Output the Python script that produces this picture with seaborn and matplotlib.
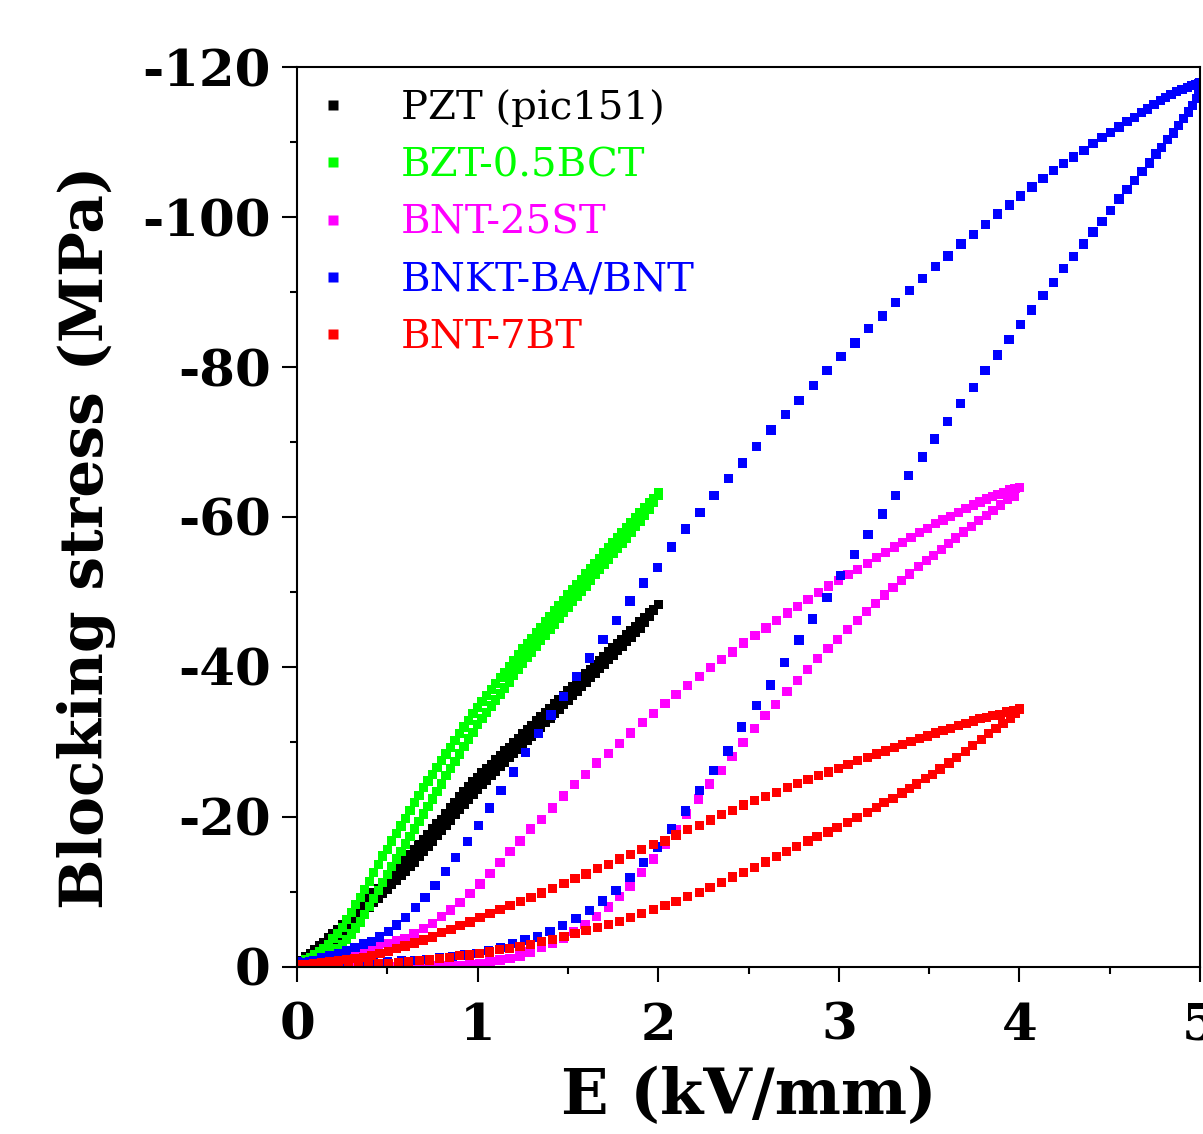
import numpy as np
import pandas as pd
import matplotlib
matplotlib.use('Agg')
import matplotlib.pyplot as plt
from matplotlib.lines import Line2D
from matplotlib.ticker import MultipleLocator
import seaborn as sns

sns.set_style('ticks')
plt.rcParams['font.family'] = ['DejaVu Serif']
plt.rcParams['font.weight'] = 'bold'
plt.rcParams['axes.unicode_minus'] = False
for key in ['text.color', 'axes.labelcolor', 'xtick.color', 'ytick.color', 'axes.edgecolor']:
    plt.rcParams[key] = 'black'

labels = ['PZT (pic151)', 'BZT-0.5BCT', 'BNT-25ST', 'BNKT-BA/BNT', 'BNT-7BT']
colors = ['#000000', '#00ff00', '#ff00ff', '#0000ff', '#ff0000']

# field grid of the two 2 kV/mm loops (kV/mm)
e_2kv = [0.0, 0.025, 0.05, 0.075, 0.1, 0.125, 0.15, 0.175, 0.2, 0.225,
         0.25, 0.275, 0.3, 0.325, 0.35, 0.375, 0.4, 0.425, 0.45, 0.475,
         0.5, 0.525, 0.55, 0.575, 0.6, 0.625, 0.65, 0.675, 0.7, 0.725,
         0.75, 0.775, 0.8, 0.825, 0.85, 0.875, 0.9, 0.925, 0.95, 0.975,
         1.0, 1.025, 1.05, 1.075, 1.1, 1.125, 1.15, 1.175, 1.2, 1.225,
         1.25, 1.275, 1.3, 1.325, 1.35, 1.375, 1.4, 1.425, 1.45, 1.475,
         1.5, 1.525, 1.55, 1.575, 1.6, 1.625, 1.65, 1.675, 1.7, 1.725,
         1.75, 1.775, 1.8, 1.825, 1.85, 1.875, 1.9, 1.925, 1.95, 1.975,
         2.0]

# blocking stress magnitudes (MPa), plotted as negative values
pzt_up = [0.5, 0.9, 1.35, 1.8, 2.3, 2.8, 3.3, 3.85, 4.4, 5.0,
          5.6, 6.2, 6.8, 7.45, 8.1, 8.7, 9.3, 9.9, 10.5, 11.15,
          11.8, 12.45, 13.1, 13.7, 14.3, 14.95, 15.6, 16.3, 17.0, 17.7,
          18.4, 19.05, 19.7, 20.4, 21.2, 21.9, 22.7, 23.4, 24.1, 24.7,
          25.3, 25.9, 26.5, 27.0, 27.6, 28.2, 28.8, 29.3, 29.9, 30.5,
          31.1, 31.6, 32.2, 32.8, 33.4, 33.9, 34.5, 35.1, 35.7, 36.2,
          36.8, 37.4, 38.0, 38.5, 39.1, 39.7, 40.3, 40.8, 41.4, 42.0,
          42.6, 43.1, 43.7, 44.3, 44.9, 45.4, 46.0, 46.6, 47.2, 47.7,
          48.3]
pzt_dn = [0.4, 0.6, 0.9, 1.2, 1.6, 2.0, 2.4, 2.9, 3.4, 3.9,
          4.4, 5.0, 5.6, 6.2, 6.8, 7.4, 8.0, 8.6, 9.2, 9.8,
          10.4, 11.0, 11.6, 12.2, 12.8, 13.4, 14.0, 14.7, 15.4, 16.1,
          16.8, 17.5, 18.2, 18.9, 19.6, 20.3, 21.0, 21.7, 22.4, 23.0,
          23.7, 24.3, 24.9, 25.5, 26.1, 26.7, 27.3, 27.9, 28.5, 29.0,
          29.6, 30.2, 30.8, 31.4, 32.0, 32.6, 33.2, 33.8, 34.4, 35.0,
          35.6, 36.2, 36.8, 37.4, 38.0, 38.6, 39.2, 39.8, 40.4, 41.0,
          41.6, 42.2, 42.8, 43.4, 44.0, 44.6, 45.2, 45.9, 46.7, 47.5,
          48.3]
bzt_up = [0.6, 0.75, 1.0, 1.3, 1.65, 2.05, 2.5, 3.0, 3.8, 4.5,
          5.3, 6.3, 7.3, 8.3, 9.3, 10.35, 11.4, 12.6, 13.7, 14.8,
          15.7, 16.8, 17.8, 18.8, 19.8, 20.9, 21.9, 22.9, 23.9, 24.8,
          25.7, 26.6, 27.5, 28.4, 29.3, 30.2, 31.1, 32.0, 32.9, 33.8,
          34.6, 35.4, 36.2, 37.0, 37.8, 38.6, 39.3, 40.1, 40.9, 41.6,
          42.4, 43.1, 43.8, 44.6, 45.3, 46.0, 46.7, 47.5, 48.2, 48.9,
          49.6, 50.3, 51.0, 51.7, 52.4, 53.1, 53.8, 54.5, 55.2, 55.9,
          56.6, 57.3, 57.9, 58.6, 59.3, 59.9, 60.6, 61.2, 61.9, 62.5,
          63.2]
bzt_dn = [0.5, 0.6, 0.75, 0.9, 1.1, 1.3, 1.55, 1.85, 2.15, 2.5,
          3.0, 3.7, 4.4, 5.2, 6.0, 7.0, 8.1, 9.1, 10.2, 11.3,
          12.3, 13.4, 14.4, 15.4, 16.4, 17.4, 18.4, 19.4, 20.4, 21.4,
          22.4, 23.4, 24.4, 25.5, 26.5, 27.4, 28.4, 29.4, 30.4, 31.3,
          32.3, 33.1, 33.9, 34.8, 35.6, 36.4, 37.2, 38.0, 38.9, 39.7,
          40.5, 41.25, 42.0, 42.75, 43.5, 44.25, 45.0, 45.75, 46.5, 47.25,
          48.0, 48.7, 49.4, 50.1, 50.8, 51.5, 52.3, 53.0, 53.7, 54.4,
          55.1, 55.8, 56.5, 57.2, 57.9, 58.7, 59.4, 60.2, 61.0, 61.9,
          62.9]

bnt25_up_e = [0.0, 0.05, 0.1, 0.15, 0.2, 0.25, 0.3, 0.35, 0.4, 0.45,
              0.5, 0.552, 0.598, 0.648, 0.7, 0.751, 0.801, 0.851, 0.902, 0.958,
              1.013, 1.069, 1.124, 1.179, 1.235, 1.294, 1.355, 1.416, 1.475, 1.536,
              1.598, 1.659, 1.724, 1.785, 1.848, 1.912, 1.973, 2.038, 2.099, 2.163,
              2.227, 2.289, 2.351, 2.412, 2.474, 2.536, 2.596, 2.655, 2.715, 2.772,
              2.83, 2.887, 2.943, 2.998, 3.051, 3.105, 3.158, 3.207, 3.258, 3.307,
              3.354, 3.399, 3.445, 3.49, 3.535, 3.577, 3.62, 3.663, 3.705, 3.744,
              3.782, 3.818, 3.85, 3.882, 3.914, 3.946, 3.975, 4.0]
bnt25_up = [0.5, 0.6, 0.8, 1.0, 1.2, 1.4, 1.7, 2.0, 2.3, 2.7,
            3.1, 3.5, 3.8, 4.4, 5.1, 5.8, 6.7, 7.6, 8.6, 9.8,
            11.06, 12.5, 13.9, 15.4, 16.8, 18.4, 19.7, 21.2, 22.8, 24.3,
            25.7, 27.2, 28.5, 29.8, 31.2, 32.6, 33.8, 35.1, 36.3, 37.5,
            38.7, 39.9, 41.0, 42.0, 43.2, 44.2, 45.2, 46.2, 47.2, 48.1,
            49.0, 49.9, 50.8, 51.5, 52.3, 53.0, 53.8, 54.6, 55.3, 56.0,
            56.6, 57.3, 57.9, 58.5, 59.1, 59.6, 60.1, 60.6, 61.1, 61.6,
            62.0, 62.4, 62.7, 63.0, 63.3, 63.6, 63.8, 63.9]
bnt25_dn_e = [0.0, 0.05, 0.1, 0.15, 0.2, 0.25, 0.3, 0.35, 0.4, 0.45,
              0.5, 0.55, 0.6, 0.65, 0.7, 0.75, 0.8, 0.85, 0.902, 0.958,
              1.013, 1.069, 1.124, 1.179, 1.235, 1.29, 1.355, 1.416, 1.475, 1.53,
              1.595, 1.659, 1.724, 1.785, 1.844, 1.908, 1.973, 2.038, 2.099, 2.158,
              2.222, 2.283, 2.348, 2.408, 2.47, 2.532, 2.591, 2.651, 2.713, 2.77,
              2.826, 2.883, 2.94, 2.994, 3.049, 3.102, 3.153, 3.205, 3.253, 3.3,
              3.349, 3.392, 3.441, 3.484, 3.526, 3.569, 3.607, 3.647, 3.69, 3.733,
              3.775, 3.818, 3.854, 3.897, 3.935, 3.973]
bnt25_dn = [0.4, 0.35, 0.3, 0.25, 0.2, 0.15, 0.12, 0.1, 0.1, 0.1,
            0.1, 0.1, 0.12, 0.14, 0.15, 0.17, 0.18, 0.2, 0.22, 0.36,
            0.49, 0.71, 0.93, 1.16, 1.47, 2.0, 2.6, 3.15, 3.8, 4.7,
            5.7, 6.7, 8.0, 9.4, 10.8, 12.6, 14.4, 16.35, 18.3, 20.4,
            22.4, 24.4, 26.2, 28.1, 29.9, 31.8, 33.5, 35.0, 36.7, 38.2,
            39.7, 41.1, 42.5, 43.7, 45.0, 46.2, 47.4, 48.5, 49.6, 50.6,
            51.5, 52.4, 53.4, 54.2, 54.9, 55.7, 56.5, 57.2, 58.0, 58.7,
            59.5, 60.2, 60.9, 61.6, 62.3, 62.8]

bnkt_up_e = [0.0, 0.044, 0.09, 0.137, 0.183, 0.229, 0.275, 0.321, 0.367, 0.413,
             0.456, 0.506, 0.552, 0.602, 0.655, 0.709, 0.764, 0.821, 0.879, 0.943,
             1.004, 1.065, 1.13, 1.198, 1.266, 1.336, 1.406, 1.475, 1.549, 1.619,
             1.694, 1.769, 1.844, 1.92, 1.997, 2.074, 2.153, 2.231, 2.309, 2.388,
             2.468, 2.545, 2.625, 2.703, 2.78, 2.858, 2.935, 3.013, 3.09, 3.166,
             3.241, 3.315, 3.39, 3.464, 3.535, 3.605, 3.677, 3.744, 3.812, 3.879,
             3.945, 4.007, 4.07, 4.13, 4.188, 4.245, 4.301, 4.357, 4.408, 4.458,
             4.506, 4.551, 4.595, 4.637, 4.675, 4.71, 4.745, 4.78, 4.81, 4.84,
             4.87, 4.9, 4.93, 4.955, 4.975, 4.99, 5.0]
bnkt_up = [0.6, 0.6, 0.9, 1.2, 1.5, 1.8, 2.2, 2.6, 3.07, 3.4,
           4.0, 4.7, 5.6, 6.6, 7.9, 9.3, 10.9, 12.7, 14.6, 16.7,
           18.9, 21.2, 23.5, 26.0, 28.6, 31.1, 33.6, 36.1, 38.7, 41.2,
           43.7, 46.2, 48.8, 51.2, 53.3, 56.0, 58.4, 60.6, 62.9, 65.1,
           67.2, 69.4, 71.6, 73.7, 75.5, 77.5, 79.5, 81.4, 83.2, 85.1,
           86.8, 88.6, 90.2, 91.8, 93.4, 94.8, 96.4, 97.7, 99.0, 100.4,
           101.6, 102.8, 104.0, 105.1, 106.2, 107.1, 108.0, 108.9, 109.8, 110.6,
           111.3, 112.0, 112.7, 113.3, 113.9, 114.4, 115.0, 115.5, 115.9, 116.3,
           116.7, 117.0, 117.3, 117.5, 117.7, 117.8, 117.9]
bnkt_dn_e = [0.0, 0.07, 0.14, 0.21, 0.28, 0.35, 0.42, 0.5, 0.58, 0.65,
             0.72, 0.79, 0.86, 0.93, 0.995, 1.059, 1.128, 1.194, 1.262, 1.331,
             1.401, 1.471, 1.545, 1.619, 1.693, 1.767, 1.844, 1.919, 1.997, 2.074,
             2.151, 2.227, 2.308, 2.387, 2.463, 2.543, 2.621, 2.7, 2.779, 2.855,
             2.934, 3.009, 3.088, 3.162, 3.241, 3.313, 3.386, 3.462, 3.531, 3.603,
             3.674, 3.744, 3.81, 3.878, 3.943, 4.005, 4.068, 4.13, 4.188, 4.245,
             4.301, 4.354, 4.408, 4.458, 4.506, 4.551, 4.595, 4.639, 4.679, 4.719,
             4.756, 4.787, 4.82, 4.852, 4.881, 4.91, 4.937, 4.96, 4.98, 4.99]
bnkt_dn = [0.7, 0.65, 0.6, 0.55, 0.55, 0.6, 0.65, 0.7, 0.8, 0.9,
           1.0, 1.2, 1.4, 1.6, 1.8, 2.2, 2.6, 3.1, 3.6, 4.0,
           4.7, 5.5, 6.5, 7.5, 8.8, 10.2, 11.9, 13.9, 16.0, 18.4,
           20.8, 23.5, 26.2, 28.8, 32.0, 34.9, 37.6, 40.6, 43.6, 46.4,
           49.3, 52.2, 55.0, 57.7, 60.4, 62.9, 65.5, 68.0, 70.4, 72.7,
           75.1, 77.3, 79.5, 81.6, 83.7, 85.7, 87.6, 89.5, 91.3, 93.1,
           94.7, 96.4, 98.0, 99.4, 100.9, 102.4, 103.7, 104.9, 106.1, 107.2,
           108.4, 109.3, 110.3, 111.2, 112.2, 113.1, 114.0, 114.9, 115.8, 116.7]

bnt7_up_e = [0.0, 0.044, 0.091, 0.137, 0.183, 0.229, 0.275, 0.321, 0.367, 0.414,
             0.46, 0.506, 0.552, 0.598, 0.65, 0.7, 0.749, 0.801, 0.853, 0.903,
             0.958, 1.013, 1.069, 1.124, 1.179, 1.237, 1.296, 1.355, 1.416, 1.478,
             1.539, 1.6, 1.663, 1.724, 1.785, 1.848, 1.908, 1.973, 2.038, 2.099,
             2.163, 2.228, 2.289, 2.351, 2.412, 2.472, 2.534, 2.593, 2.655, 2.715,
             2.772, 2.83, 2.887, 2.943, 2.998, 3.051, 3.105, 3.158, 3.207, 3.258,
             3.307, 3.354, 3.399, 3.445, 3.49, 3.535, 3.577, 3.62, 3.663, 3.705,
             3.744, 3.782, 3.818, 3.854, 3.892, 3.931, 3.967, 4.0]
bnt7_up = [0.3, 0.35, 0.45, 0.55, 0.65, 0.8, 0.95, 1.1, 1.3, 1.55,
           1.8, 2.1, 2.45, 2.8, 3.2, 3.6, 4.0, 4.6, 5.0, 5.5,
           6.0, 6.6, 7.1, 7.7, 8.2, 8.7, 9.3, 9.85, 10.5, 11.15,
           11.8, 12.4, 13.1, 13.7, 14.4, 15.0, 15.7, 16.3, 16.8, 17.6,
           18.3, 18.9, 19.6, 20.3, 20.9, 21.6, 22.2, 22.7, 23.3, 23.9,
           24.5, 25.0, 25.5, 26.0, 26.5, 27.0, 27.5, 27.95, 28.4, 28.8,
           29.3, 29.7, 30.1, 30.5, 30.8, 31.2, 31.5, 31.8, 32.2, 32.5,
           32.8, 33.1, 33.3, 33.5, 33.7, 34.0, 34.2, 34.4]
bnt7_dn_e = [0.0, 0.063, 0.118, 0.173, 0.229, 0.284, 0.34, 0.395, 0.45, 0.506,
             0.561, 0.616, 0.677, 0.733, 0.788, 0.843, 0.899, 0.954, 1.01, 1.065,
             1.12, 1.176, 1.235, 1.294, 1.355, 1.416, 1.478, 1.539, 1.6, 1.663,
             1.724, 1.785, 1.848, 1.908, 1.973, 2.038, 2.099, 2.163, 2.228, 2.287,
             2.351, 2.412, 2.471, 2.532, 2.593, 2.656, 2.711, 2.767, 2.83, 2.88,
             2.94, 2.99, 3.05, 3.1, 3.16, 3.21, 3.25, 3.3, 3.35, 3.39,
             3.43, 3.48, 3.52, 3.56, 3.61, 3.65, 3.7, 3.74, 3.79, 3.83,
             3.87, 3.91, 3.95, 3.98]
bnt7_dn = [0.27, 0.22, 0.18, 0.18, 0.18, 0.22, 0.27, 0.31, 0.4, 0.49,
           0.58, 0.71, 0.84, 0.93, 1.1, 1.3, 1.5, 1.6, 1.8, 2.0,
           2.3, 2.5, 2.7, 3.0, 3.35, 3.7, 4.04, 4.5, 4.84, 5.3,
           5.7, 6.1, 6.6, 7.15, 7.7, 8.2, 8.7, 9.4, 9.9, 10.6,
           11.3, 12.0, 12.6, 13.3, 14.0, 14.7, 15.4, 16.1, 16.8, 17.4,
           18.0, 18.6, 19.3, 19.9, 20.6, 21.3, 21.9, 22.5, 23.2, 23.8,
           24.4, 25.1, 25.7, 26.4, 27.2, 27.9, 28.7, 29.5, 30.3, 31.1,
           31.8, 32.5, 33.2, 33.8]

# long table, drawing order black -> green -> magenta -> blue -> red
branches = [
    (labels[0], e_2kv, pzt_up), (labels[0], e_2kv, pzt_dn),
    (labels[1], e_2kv, bzt_up), (labels[1], e_2kv, bzt_dn),
    (labels[2], bnt25_up_e, bnt25_up), (labels[2], bnt25_dn_e, bnt25_dn),
    (labels[3], bnkt_up_e, bnkt_up), (labels[3], bnkt_dn_e, bnkt_dn),
    (labels[4], bnt7_up_e, bnt7_up), (labels[4], bnt7_dn_e, bnt7_dn),
]
df = pd.concat([pd.DataFrame({'E': e, 'stress': -np.array(s), 'material': name})
                for name, e, s in branches], ignore_index=True)

fig, ax = plt.subplots(figsize=(12.03, 11.34), dpi=100)
fig.subplots_adjust(left=0.2469, right=0.9975, bottom=0.1473, top=0.9409)

sns.scatterplot(data=df, x='E', y='stress', hue='material', hue_order=labels,
                palette=colors, marker='s', s=45, linewidth=0, edgecolor='none',
                legend=False, ax=ax)

ax.set_xlim(0, 5)
ax.set_ylim(0, -120)
ax.xaxis.set_major_locator(MultipleLocator(1))
ax.xaxis.set_minor_locator(MultipleLocator(0.5))
ax.yaxis.set_major_locator(MultipleLocator(20))
ax.yaxis.set_minor_locator(MultipleLocator(10))
ax.tick_params(which='major', direction='out', length=11, width=1.5, labelsize=37)
ax.tick_params(which='minor', direction='out', length=5, width=1.5)
ax.tick_params(axis='x', which='major', pad=14)
ax.tick_params(axis='y', which='major', pad=8)
for sp in ax.spines.values():
    sp.set_linewidth(1.5)
    sp.set_color('black')

ax.set_xlabel('E (kV/mm)', fontsize=45, fontweight='bold')
ax.set_ylabel('Blocking stress (MPa)', fontsize=43, fontweight='bold')
ax.xaxis.set_label_coords(0.5, -0.11)
ax.yaxis.set_label_coords(-0.20, 0.477)

handles = [Line2D([], [], ls='none', marker='s', ms=6.5, mfc=c, mec='none') for c in colors]
leg = ax.legend(handles, labels, loc='upper left', bbox_to_anchor=(0.018, 0.975),
                frameon=False, prop={'family': 'DejaVu Serif', 'size': 29, 'weight': 'normal'},
                handlelength=1.0, handletextpad=1.17, borderpad=0, borderaxespad=0,
                labelspacing=0.5)
for t, c in zip(leg.get_texts(), colors):
    t.set_color(c)

fig.savefig('out.png', dpi=100)
